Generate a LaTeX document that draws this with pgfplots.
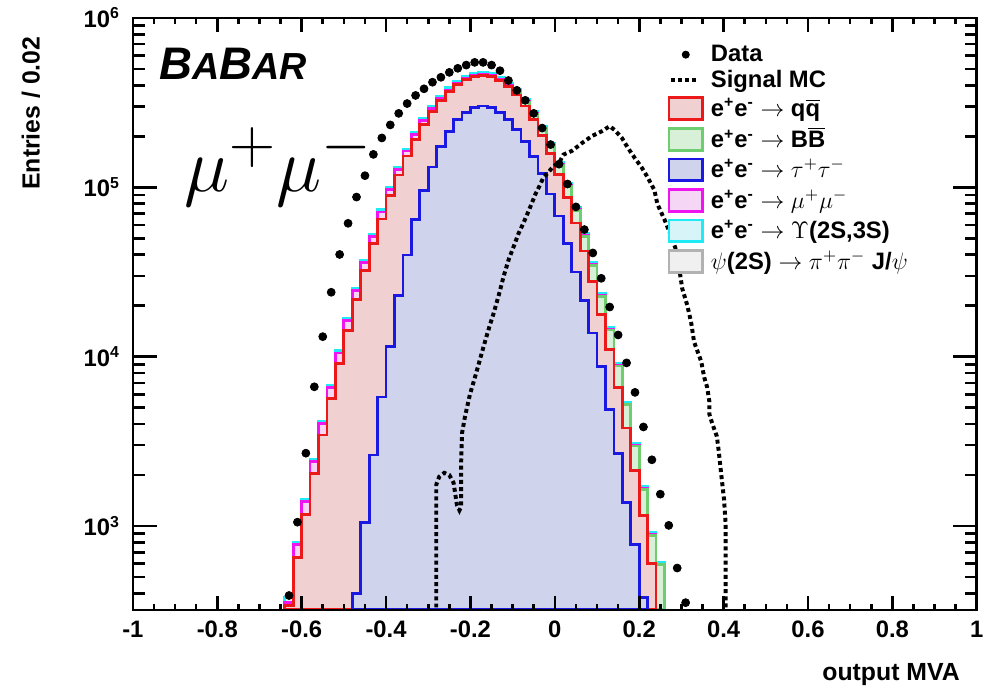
\documentclass[border=0pt]{standalone}
\usepackage{fontspec}
\setmainfont{Liberation Sans}
\usepackage{pgfplots}
\pgfplotsset{compat=1.18}
\definecolor{rred}{RGB}{235,25,25}
\definecolor{rgreen}{RGB}{110,205,110}
\definecolor{rblue}{RGB}{25,25,225}
\definecolor{rmag}{RGB}{240,20,240}
\definecolor{rcyan}{RGB}{30,235,245}
\definecolor{pinkfill}{RGB}{240,208,208}
\definecolor{bluefill}{RGB}{208,211,236}
\definecolor{cyanfill}{RGB}{215,245,248}
\definecolor{magfill}{RGB}{245,215,245}
\definecolor{greenfill}{RGB}{215,240,215}
\pgfplotsset{
  boxlegend/.style={legend image code/.code={\draw[##1] (0pt,-5.5pt) rectangle (17pt,5.5pt);}},
  dotlegend/.style={legend image code/.code={\fill[black] (8.5pt,0pt) circle (1.8pt);}},
  dashlegend/.style={legend image code/.code={\draw[##1] (1pt,0pt) -- (15pt,0pt);}},
}
\begin{document}
\begin{tikzpicture}
\begin{axis}[
  at={(0pt,0pt)}, anchor=south west,
  scale only axis, width=425.5pt, height=298.5pt,
  ymode=log, xmin=-1, xmax=1, ymin=320, ymax=1e6,
  log origin y=infty,
  axis on top,
  axis line style={line width=1.3pt},
  tick align=inside,
  major tick length=0pt, minor tick length=0pt,
  xtick={-1,-0.8,-0.6,-0.4,-0.2,0,0.2,0.4,0.6,0.8,1},
  xticklabels={-1,-0.8,-0.6,-0.4,-0.2,0,0.2,0.4,0.6,0.8,1},
  ytick={1e3,1e4,1e5,1e6},
  yticklabels={10\textsuperscript{3},10\textsuperscript{4},10\textsuperscript{5},10\textsuperscript{6}},
  tick label style={font=\fontsize{12}{14}\selectfont\bfseries},
  xticklabel style={yshift=-2pt},
  yticklabel style={xshift=-3pt},
  xlabel={output MVA}, ylabel={Entries / 0.02},
  every axis x label/.style={at={(axis description cs:0.988,-0.109)}, anchor=east, font=\fontsize{12.5}{14}\selectfont\bfseries},
  every axis y label/.style={at={(axis description cs:-0.121,0.98)}, rotate=90, anchor=east, font=\fontsize{12.5}{14}\selectfont\bfseries},
  legend style={at={(0.626,0.9615)}, anchor=north west, draw=none, fill=none,
    font=\fontsize{12}{14}\selectfont\bfseries, row sep=3pt, column sep=3.5pt,
    nodes={inner sep=0pt}},
  legend cell align=left,
]
% legend
\addlegendimage{dotlegend}
\addlegendentry{Data}
\addlegendimage{dashlegend, black, line width=2pt, dash pattern=on 2pt off 1.6pt}
\addlegendentry{Signal MC}
\addlegendimage{boxlegend, draw=rred, fill=pinkfill, line width=1.4pt}
\addlegendentry{e\textsuperscript{+}e\textsuperscript{-} $\rightarrow$ q$\overline{\mbox{q}}$}
\addlegendimage{boxlegend, draw=rgreen, fill=greenfill, line width=1.4pt}
\addlegendentry{e\textsuperscript{+}e\textsuperscript{-} $\rightarrow$ B$\overline{\mbox{B}}$}
\addlegendimage{boxlegend, draw=rblue, fill=bluefill, line width=1.4pt}
\addlegendentry{e\textsuperscript{+}e\textsuperscript{-} $\rightarrow$ $\tau^{+}\tau^{-}$}
\addlegendimage{boxlegend, draw=rmag, fill=magfill, line width=1.4pt}
\addlegendentry{e\textsuperscript{+}e\textsuperscript{-} $\rightarrow$ $\mu^{+}\mu^{-}$}
\addlegendimage{boxlegend, draw=rcyan, fill=cyanfill, line width=1.4pt}
\addlegendentry{e\textsuperscript{+}e\textsuperscript{-} $\rightarrow$ $\Upsilon$(2S,3S)}
\addlegendimage{boxlegend, draw=gray!60, fill=gray!12, line width=1.4pt}
\addlegendentry{$\psi$(2S) $\rightarrow$ $\pi^{+}\pi^{-}$ J/$\psi$}

% cyan: Upsilon(2S,3S) on top of stack
\addplot[const plot, forget plot, draw=rcyan, fill=cyanfill, line width=1.4pt] coordinates {
(-0.64,380)(-0.62,805)(-0.60,1431)(-0.58,2470)(-0.56,4149)(-0.54,6797)(-0.52,10827)(-0.50,16780)(-0.48,25292)(-0.46,37157)(-0.44,52992)(-0.42,73656)(-0.40,99831)(-0.38,131263)(-0.36,168401)(-0.34,209953)(-0.32,254693)(-0.30,300472)(-0.28,345641)(-0.26,386726)(-0.24,420905)(-0.22,449930)(-0.20,468967)(-0.18,475521)(-0.16,467927)(-0.14,444832)(-0.12,409462)(-0.10,375860)(-0.08,329879)(-0.06,280257)(-0.04,230010)(-0.02,182573)(0.00,140336)(0.02,105070)(0.04,76160)(0.06,53284)(0.08,36057)(0.10,23625)(0.12,14939)(0.14,9146)(0.16,5405)(0.18,3092)(0.20,1712)(0.22,916)(0.24,614)(0.26,614)
} \closedcycle;
% magenta: mu+mu-
\addplot[const plot, forget plot, draw=rmag, fill=magfill, line width=1.4pt] coordinates {
(-0.64,355)(-0.62,782)(-0.60,1389)(-0.58,2398)(-0.56,4028)(-0.54,6599)(-0.52,10512)(-0.50,16291)(-0.48,24555)(-0.46,36075)(-0.44,51449)(-0.42,71511)(-0.40,96923)(-0.38,127440)(-0.36,163496)(-0.34,203838)(-0.32,247275)(-0.30,291720)(-0.28,335574)(-0.26,375462)(-0.24,408646)(-0.22,436825)(-0.20,455308)(-0.18,461671)(-0.16,454298)(-0.14,431876)(-0.12,397536)(-0.10,364913)(-0.08,320271)(-0.06,272094)(-0.04,223311)(-0.02,177255)(0.00,136249)(0.02,102010)(0.04,73942)(0.06,51732)(0.08,35007)(0.10,22937)(0.12,14504)(0.14,8880)(0.16,5248)(0.18,3002)(0.20,1662)(0.22,889)(0.24,596)(0.26,596)
} \closedcycle;
% green: B Bbar
\addplot[const plot, forget plot, draw=rgreen, fill=greenfill, line width=1.4pt] coordinates {
(-0.64,340)(-0.62,652)(-0.60,1167)(-0.58,2032)(-0.56,3443)(-0.54,5689)(-0.52,9141)(-0.50,14290)(-0.48,21730)(-0.46,32210)(-0.44,46350)(-0.42,65010)(-0.40,88920)(-0.38,118000)(-0.36,152800)(-0.34,192300)(-0.32,235500)(-0.30,280500)(-0.28,325800)(-0.26,368100)(-0.24,404600)(-0.22,432500)(-0.20,450800)(-0.18,457100)(-0.16,449800)(-0.14,427600)(-0.12,393600)(-0.10,361300)(-0.08,317100)(-0.06,269400)(-0.04,221100)(-0.02,175500)(0.00,134900)(0.02,101000)(0.04,73210)(0.06,51220)(0.08,34660)(0.10,22710)(0.12,14360)(0.14,8792)(0.16,5196)(0.18,2972)(0.20,1646)(0.22,880)(0.24,590)(0.26,590)
} \closedcycle;
% red: q qbar
\addplot[const plot, forget plot, draw=rred, fill=pinkfill, line width=1.4pt] coordinates {
(-0.64,340)(-0.62,652)(-0.60,1167)(-0.58,2032)(-0.56,3443)(-0.54,5689)(-0.52,9141)(-0.50,14290)(-0.48,21730)(-0.46,32210)(-0.44,46350)(-0.42,65010)(-0.40,88920)(-0.38,118000)(-0.36,152800)(-0.34,192300)(-0.32,235500)(-0.30,280500)(-0.28,325800)(-0.26,368100)(-0.24,404600)(-0.22,432500)(-0.20,450800)(-0.18,457100)(-0.16,449800)(-0.14,427600)(-0.12,393600)(-0.10,350800)(-0.08,302000)(-0.06,251800)(-0.04,202800)(-0.02,158100)(0.00,119400)(0.02,87100)(0.04,61520)(0.06,41980)(0.08,27730)(0.10,17740)(0.12,10960)(0.14,6561)(0.16,3793)(0.18,2123)(0.20,1151)(0.22,603)(0.24,603)
} \closedcycle;
% blue: tau+tau-
\addplot[const plot, forget plot, draw=rblue, fill=bluefill, line width=1.4pt] coordinates {
(-0.48,398)(-0.46,1054)(-0.44,2624)(-0.42,5781)(-0.40,11480)(-0.38,22910)(-0.36,39810)(-0.34,64570)(-0.32,95500)(-0.30,131800)(-0.28,173800)(-0.26,213800)(-0.24,251200)(-0.22,275400)(-0.20,295100)(-0.18,302000)(-0.16,295100)(-0.14,275400)(-0.12,251200)(-0.10,218800)(-0.08,186200)(-0.06,151400)(-0.04,120200)(-0.02,91200)(0.00,67610)(0.02,46770)(0.04,31620)(0.06,21380)(0.08,13800)(0.10,8710)(0.12,4898)(0.14,2692)(0.16,1380)(0.18,776)(0.20,380)(0.22,380)
} \closedcycle;
% signal MC
\addplot[forget plot, black, line width=2pt, dash pattern=on 2pt off 1.6pt] coordinates {
(-0.281,300)(-0.281,1754)(-0.274,1954)(-0.262,2060)(-0.250,2000)(-0.240,1800)(-0.236,1550)(-0.232,1330)(-0.226,1239)(-0.222,1300)(-0.222,1475)(-0.222,2355)(-0.220,3524)(-0.213,4419)(-0.201,6008)(-0.192,7158)(-0.182,8750)(-0.173,10550)(-0.163,12890)(-0.154,15350)(-0.145,18030)(-0.133,23000)(-0.121,30000)(-0.109,37670)(-0.097,45000)(-0.086,53330)(-0.075,61000)(-0.065,69660)(-0.055,80000)(-0.046,91000)(-0.036,102000)(-0.027,114300)(-0.016,122000)(-0.006,130600)(0.013,143500)(0.020,155600)(0.041,164100)(0.065,182800)(0.088,200600)(0.112,214400)(0.130,229300)(0.142,217300)(0.159,195300)(0.173,171000)(0.189,149300)(0.206,130600)(0.220,114300)(0.236,96100)(0.243,79700)(0.260,64300)(0.276,51200)(0.290,40800)(0.295,32900)(0.302,25200)(0.314,20050)(0.323,15960)(0.330,12220)(0.347,9350)(0.354,7550)(0.361,6600)(0.366,5480)(0.366,4600)(0.373,4030)(0.384,3380)(0.389,2690)(0.394,2060)(0.401,1437)(0.405,1013)(0.405,643)(0.405,300)
};
% data
\addplot[forget plot, only marks, mark=*, mark size=2pt, black] coordinates {
(-0.63,389)(-0.61,1054)(-0.59,2692)(-0.57,6637)(-0.55,13120)(-0.53,23990)(-0.51,40090)(-0.49,61240)(-0.47,87500)(-0.45,117000)(-0.43,156300)(-0.41,195400)(-0.39,233300)(-0.37,272900)(-0.35,311900)(-0.33,348300)(-0.31,381100)(-0.29,416900)(-0.27,445700)(-0.25,476400)(-0.23,503500)(-0.21,526000)(-0.19,545800)(-0.17,545800)(-0.15,526000)(-0.13,487500)(-0.11,426600)(-0.09,373300)(-0.07,325800)(-0.05,272900)(-0.03,223400)(-0.01,178600)(0.01,136800)(0.03,104500)(0.05,76560)(0.07,56230)(0.09,40930)(0.11,29000)(0.13,19630)(0.15,13430)(0.17,9183)(0.19,6152)(0.21,3846)(0.23,2460)(0.25,1542)(0.27,1009)(0.29,565)(0.31,353)
};
\node[anchor=base west, inner sep=0pt, font=\bfseries\itshape] at (rel axis cs:0.0306,0.896)
  {\fontsize{23}{23}\selectfont B\fontsize{19}{19}\selectfont A\fontsize{23}{23}\selectfont B\fontsize{19}{19}\selectfont AR};
\node[anchor=base west, inner sep=0pt, scale=1.55] at (rel axis cs:0.06,0.707) {\Huge$\mu^{+}\mu^{-}$};
\end{axis}
% tick marks drawn on the frame (axis box spans (0,0)--(425.5pt,298.5pt); y: log10 from 2.50515 to 6)
\begin{scope}[line width=1.3pt, black]
\foreach \x in {-0.8,-0.6,-0.4,-0.2,0,0.2,0.4,0.6,0.8}{
  \draw ({(\x+1)*212.75pt},0pt) -- ++(0pt,7pt);
  \draw ({(\x+1)*212.75pt},298.5pt) -- ++(0pt,-7pt);
}
\foreach \x in {-0.95,-0.9,-0.85,-0.75,-0.7,-0.65,-0.55,-0.5,-0.45,-0.35,-0.3,-0.25,-0.15,-0.1,-0.05,0.05,0.1,0.15,0.25,0.3,0.35,0.45,0.5,0.55,0.65,0.7,0.75,0.85,0.9,0.95}{
  \draw ({(\x+1)*212.75pt},0pt) -- ++(0pt,3pt);
  \draw ({(\x+1)*212.75pt},298.5pt) -- ++(0pt,-3pt);
}
\foreach \d in {3,4,5}{
  \pgfmathsetmacro\yy{(\d-2.50515)/3.49485*298.5}
  \draw (0pt,\yy pt) -- ++(12pt,0pt);
  \draw (425.5pt,\yy pt) -- ++(-12pt,0pt);
}
\foreach \m in {4,5,6,7,8,9}{
  \pgfmathsetmacro\yy{(2+log10(\m)-2.50515)/3.49485*298.5}
  \draw (0pt,\yy pt) -- ++(6pt,0pt);
  \draw (425.5pt,\yy pt) -- ++(-6pt,0pt);
}
\foreach \d in {3,4,5}{
  \foreach \m in {2,3,4,5,6,7,8,9}{
    \pgfmathsetmacro\yy{(\d+log10(\m)-2.50515)/3.49485*298.5}
    \draw (0pt,\yy pt) -- ++(6pt,0pt);
    \draw (425.5pt,\yy pt) -- ++(-6pt,0pt);
  }
}
\end{scope}
\path (-67pt,-40pt) rectangle (428pt,307.5pt);
\end{tikzpicture}
\end{document}
